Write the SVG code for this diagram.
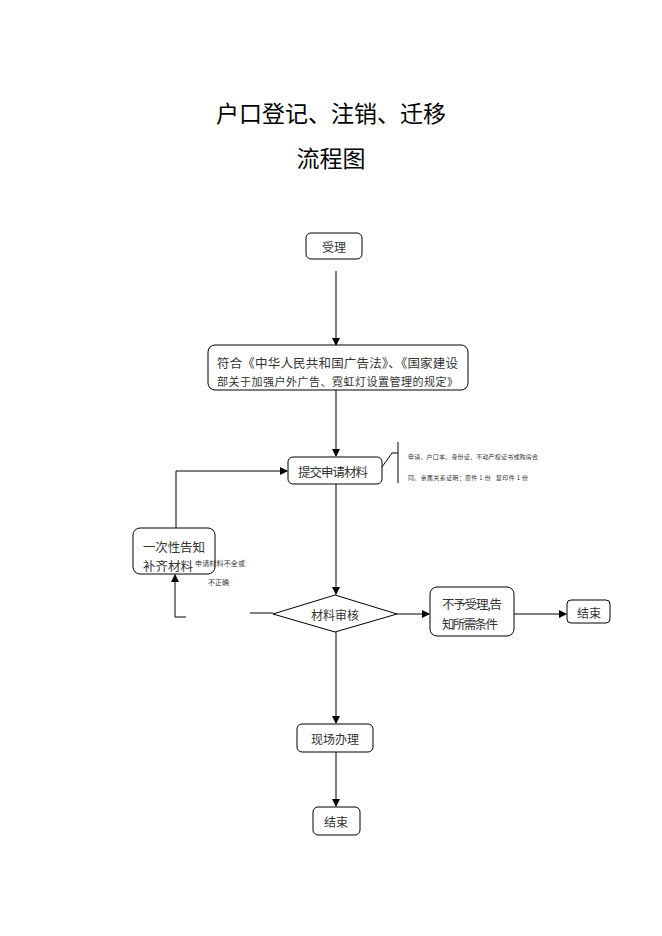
<svg xmlns="http://www.w3.org/2000/svg" width="662" height="936" viewBox="0 0 662 936">
<style>
.box{fill:#fff;stroke:#000;stroke-width:1}
.t{font-family:"Noto Sans CJK SC",sans-serif;fill:#333;text-anchor:middle;dominant-baseline:central}
.tl{font-family:"Noto Sans CJK SC",sans-serif;fill:#333;dominant-baseline:central}
.ln{fill:none;stroke:#000;stroke-width:1}
.title{font-family:"Noto Sans CJK SC",sans-serif;fill:#000;text-anchor:middle;dominant-baseline:central;font-size:23px}
.sm{font-family:"Noto Sans CJK SC",sans-serif;fill:#333;dominant-baseline:central}
</style>
<defs>
<marker id="ah" markerWidth="8" markerHeight="8" refX="7" refY="4" orient="auto" markerUnits="userSpaceOnUse">
<path d="M0,0 L8,4 L0,8 Z" fill="#000"/>
</marker>
</defs>
<rect width="662" height="936" fill="#fff"/>
<g id="title">
<text class="title" x="331" y="112">户口登记、注销、迁移</text>
<text class="title" x="331" y="157">流程图</text>
</g>
<g id="connectors">
<line class="ln" x1="336" y1="271" x2="336" y2="345" marker-end="url(#ah)"/>
<line class="ln" x1="336" y1="390" x2="336" y2="456" marker-end="url(#ah)"/>
<line class="ln" x1="336" y1="484" x2="336" y2="594" marker-end="url(#ah)"/>
<line class="ln" x1="397" y1="614" x2="429" y2="614" marker-end="url(#ah)"/>
<line class="ln" x1="514" y1="614" x2="566" y2="614" marker-end="url(#ah)"/>
<line class="ln" x1="336" y1="632" x2="336" y2="723" marker-end="url(#ah)"/>
<line class="ln" x1="336" y1="752" x2="336" y2="806" marker-end="url(#ah)"/>
<polyline class="ln" points="176,528 176,471 287,471" marker-end="url(#ah)"/>
<polyline class="ln" points="186,617 175,617 175,575" marker-end="url(#ah)"/>
<line class="ln" x1="250" y1="613" x2="273" y2="613"/>
<polyline class="ln" points="382,467 392,453 398,453"/>
<line class="ln" x1="398" y1="442" x2="398" y2="483"/>
</g>
<g id="n1">
<rect class="box" x="306" y="233" width="56" height="26" rx="5"/>
<text class="t" x="334" y="246" font-size="12">受理</text>
</g>
<g id="n2">
<rect class="box" x="208" y="345" width="260" height="45" rx="7"/>
<text class="tl" x="217" y="362" font-size="12.5" textLength="241" lengthAdjust="spacing">符合《中华人民共和国广告法》、《国家建设</text>
<text class="tl" x="217" y="381" font-size="11" textLength="241" lengthAdjust="spacing">部关于加强户外广告、霓虹灯设置管理的规定》</text>
</g>
<g id="n3">
<rect class="box" x="288" y="457" width="94" height="27" rx="5"/>
<text class="tl" x="298" y="471" font-size="12.5" textLength="70" lengthAdjust="spacing">提交申请材料</text>
</g>
<g id="note">
<text class="sm" x="408" y="456" font-size="6" textLength="130" lengthAdjust="spacing">申请、户口本、身份证、不动产权证书或购房合</text>
<text class="sm" x="408" y="477" font-size="6" textLength="120" lengthAdjust="spacing" xml:space="preserve">同、亲属关系证明：原件 1 份   复印件 1 份</text>
</g>
<g id="n4">
<rect class="box" x="133" y="528" width="82" height="46" rx="7"/>
<text class="tl" x="143" y="546" font-size="12.5" textLength="62" lengthAdjust="spacing">一次性告知</text>
<text class="tl" x="143" y="565" font-size="12.5" textLength="50" lengthAdjust="spacing">补齐材料</text>
<text class="sm" x="195" y="563" font-size="7" textLength="50" lengthAdjust="spacing">申请材料不全或</text>
<text class="sm" x="208" y="582" font-size="7">不正确</text>
</g>
<g id="n5">
<polygon class="box" points="273,614 335,595 397,614 335,632"/>
<text class="t" x="335" y="614" font-size="12">材料审核</text>
</g>
<g id="n6">
<rect class="box" x="430" y="587" width="84" height="49" rx="7"/>
<text class="tl" x="442" y="603" font-size="12.5" textLength="60" lengthAdjust="spacing">不予受理,告</text>
<text class="tl" x="442" y="623" font-size="12.5" textLength="56" lengthAdjust="spacing">知所需条件</text>
</g>
<g id="n7">
<rect class="box" x="567" y="600" width="43" height="23" rx="4"/>
<text class="t" x="589" y="612" font-size="12">结束</text>
</g>
<g id="n8">
<rect class="box" x="297" y="724" width="76" height="28" rx="5"/>
<text class="t" x="335" y="738" font-size="12">现场办理</text>
</g>
<g id="n9">
<rect class="box" x="313" y="807" width="47" height="28" rx="5"/>
<text class="t" x="336" y="821" font-size="12">结束</text>
</g>
</svg>
